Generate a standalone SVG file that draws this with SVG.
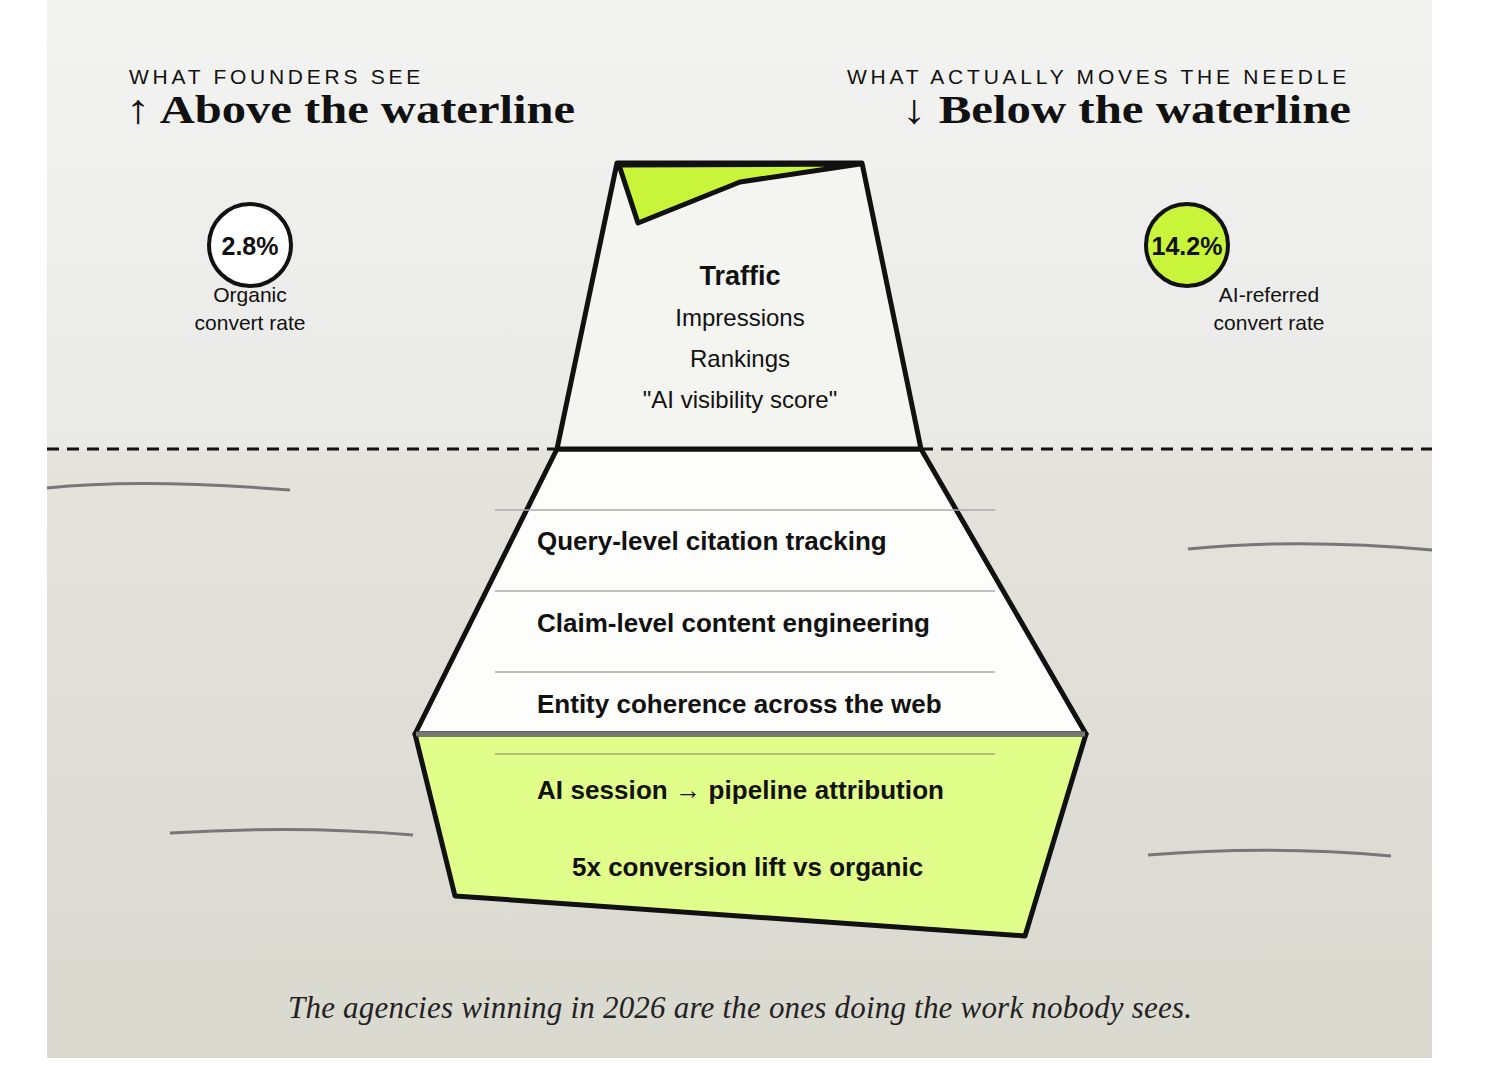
<svg xmlns="http://www.w3.org/2000/svg" width="1500" height="1080" viewBox="0 0 1500 1080">
<defs>
<linearGradient id="sky" x1="0" y1="0" x2="0" y2="1"><stop offset="0" stop-color="#f3f3f1"/><stop offset="1" stop-color="#e9e9e7"/></linearGradient>
<linearGradient id="sea" x1="0" y1="0" x2="0" y2="1"><stop offset="0" stop-color="#e4e3dc"/><stop offset="1" stop-color="#dad9d0"/></linearGradient>
</defs>
<style>
.sans{font-family:"Liberation Sans",Arial,sans-serif}
.cap{font-family:"Liberation Sans",Arial,sans-serif;font-size:21px;letter-spacing:2.8px;fill:#111}
.head{font-family:"Liberation Serif","Times New Roman",serif;font-weight:bold;font-size:41px;fill:#111}
.item{font-family:"Liberation Sans",Arial,sans-serif;font-weight:bold;font-size:26px;fill:#111}
.lbl{font-family:"Liberation Sans",Arial,sans-serif;font-size:21px;fill:#111;text-anchor:middle}
.lbl2{font-family:"Liberation Sans",Arial,sans-serif;font-size:24px;fill:#111;text-anchor:middle}
.wave{fill:none;stroke:#777;stroke-width:3}
.sep{stroke:#aaa;stroke-width:1.5}
</style>
<rect x="0" y="0" width="1500" height="1080" fill="#fff"/>
<rect x="47" y="0" width="1385" height="449" fill="url(#sky)"/>
<rect x="47" y="449" width="1385" height="609" fill="url(#sea)"/>
<g id="waves">
<path class="wave" d="M47 488 Q140 478 290 490"/>
<path class="wave" d="M1188 549 Q1300 538 1432 550"/>
<path class="wave" d="M170 833 Q300 825 413 835"/>
<path class="wave" d="M1148 855 Q1270 845 1391 856"/>
</g>
<g id="header-left">
<text class="cap" x="129" y="84" textLength="294">WHAT FOUNDERS SEE</text>
<text class="head" x="126" y="123" textLength="449" lengthAdjust="spacingAndGlyphs">↑ Above the waterline</text>
</g>
<g id="header-right">
<text class="cap" x="847" y="84" textLength="502">WHAT ACTUALLY MOVES THE NEEDLE</text>
<text class="head" x="902" y="123" textLength="449" lengthAdjust="spacingAndGlyphs">↓ Below the waterline</text>
</g>
<g id="stat-left">
<circle cx="250" cy="245" r="41" fill="#fff" stroke="#111" stroke-width="4"/>
<text class="sans" x="250" y="255" font-size="25" font-weight="bold" text-anchor="middle" fill="#111">2.8%</text>
<text class="lbl" x="250" y="302">Organic</text>
<text class="lbl" x="250" y="330">convert rate</text>
</g>
<g id="stat-right">
<circle cx="1187" cy="245" r="41" fill="#c8f53a" stroke="#111" stroke-width="4"/>
<text class="sans" x="1187" y="255" font-size="25" font-weight="bold" text-anchor="middle" fill="#111">14.2%</text>
<text class="lbl" x="1269" y="302">AI-referred</text>
<text class="lbl" x="1269" y="330">convert rate</text>
</g>
<g id="middle">
<polygon points="557,449 921,449 1086,734 415,734" fill="#fdfdfb" stroke="#111" stroke-width="5" stroke-linejoin="round"/>
<line class="sep" x1="495" y1="510" x2="995" y2="510"/>
<line class="sep" x1="495" y1="591" x2="995" y2="591"/>
<line class="sep" x1="495" y1="672" x2="995" y2="672"/>
<text class="item" x="537" y="550">Query-level citation tracking</text>
<text class="item" x="537" y="632">Claim-level content engineering</text>
<text class="item" x="537" y="713">Entity coherence across the web</text>
</g>
<g id="bottom">
<polygon points="415,734 1086,734 1025,936 455,896" fill="#e1fd8a" stroke="#111" stroke-width="5" stroke-linejoin="round"/>
<line x1="416" y1="734" x2="1085" y2="734" stroke="#777" stroke-width="5"/>
<line x1="495" y1="754" x2="995" y2="754" stroke="#9ea87a" stroke-width="1.5"/>
<text class="item" x="537" y="799" textLength="407">AI session → pipeline attribution</text>
<text class="item" x="572" y="876">5x conversion lift vs organic</text>
</g>
<g id="top">
<polygon points="617,163 862,163 921,449 557,449" fill="#f4f4f0" stroke="#111" stroke-width="5" stroke-linejoin="round"/>
<polygon points="619,165 638,223 740,182 860,164" fill="#c8f53a" stroke="#111" stroke-width="5" stroke-linejoin="round"/>
<text class="sans" x="740" y="285" font-size="27" font-weight="bold" text-anchor="middle" fill="#111">Traffic</text>
<text class="lbl2" x="740" y="326">Impressions</text>
<text class="lbl2" x="740" y="367">Rankings</text>
<text class="lbl2" x="740" y="408">"AI visibility score"</text>
</g>
<g id="waterline">
<line x1="47" y1="449" x2="557" y2="449" stroke="#111" stroke-width="3" stroke-dasharray="12 8"/>
<line x1="921" y1="449" x2="1432" y2="449" stroke="#111" stroke-width="3" stroke-dasharray="12 8"/>
</g>
<text x="740" y="1018" text-anchor="middle" font-family="Liberation Serif,'Times New Roman',serif" font-style="italic" font-size="31" fill="#222" textLength="904">The agencies winning in 2026 are the ones doing the work nobody sees.</text>
</svg>
